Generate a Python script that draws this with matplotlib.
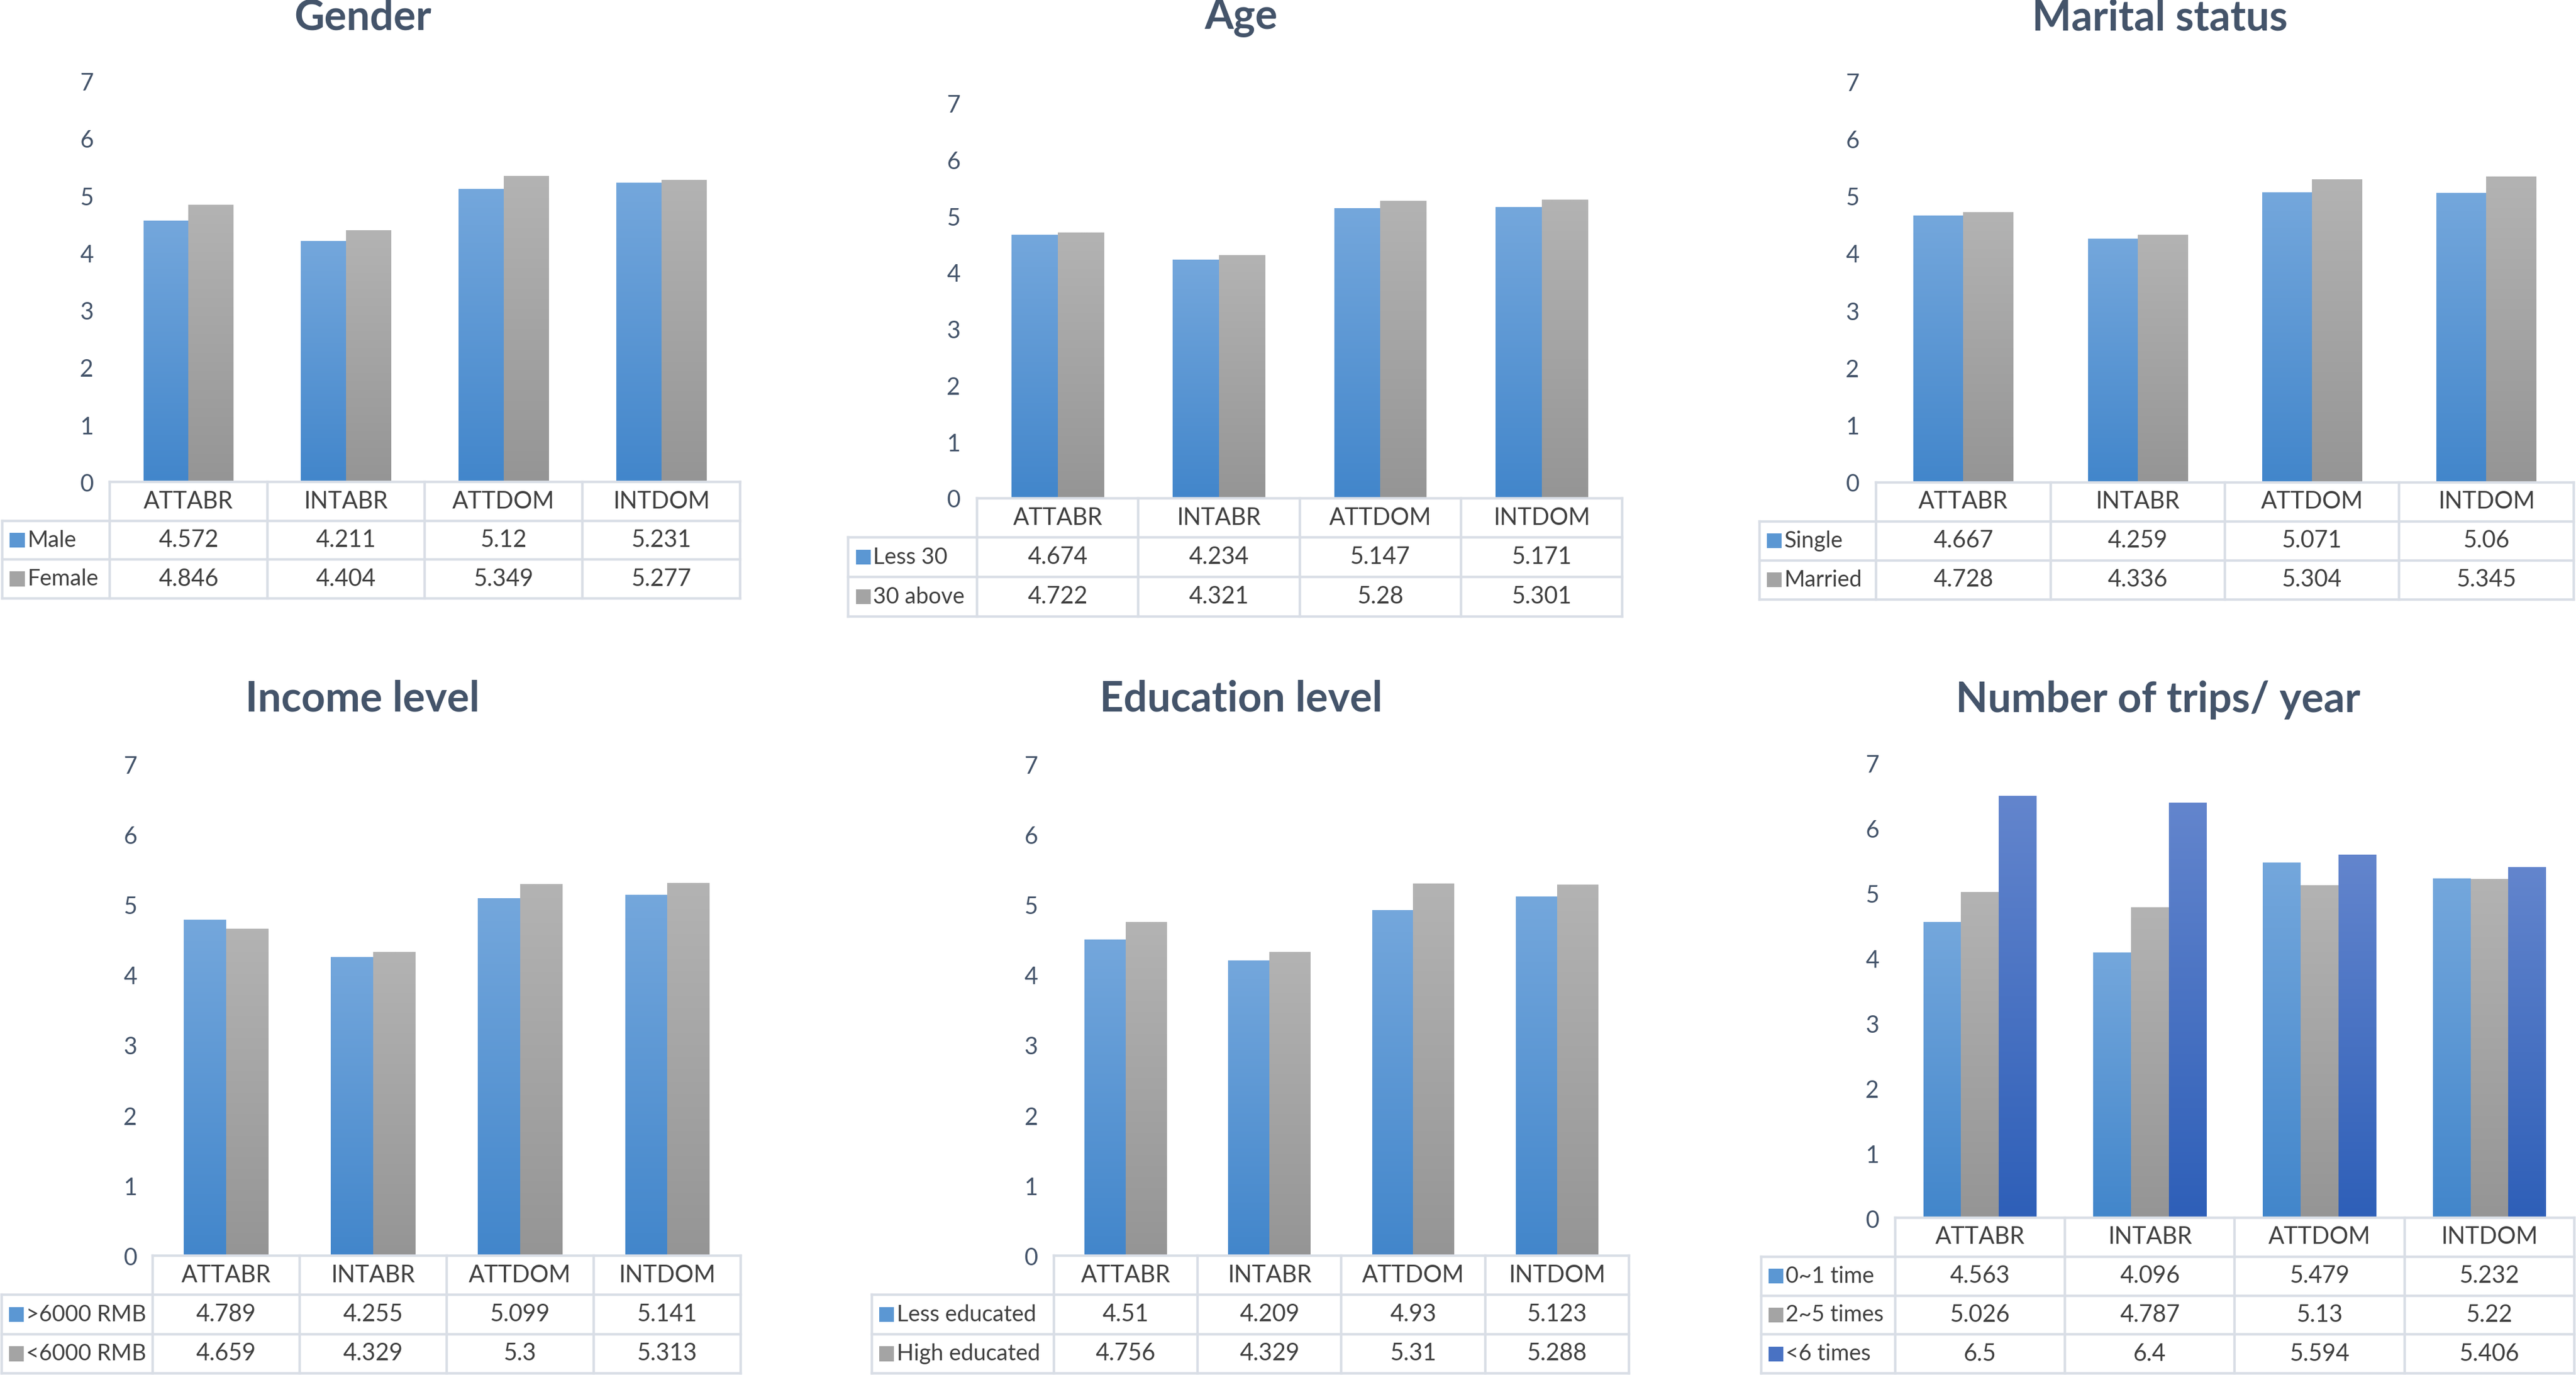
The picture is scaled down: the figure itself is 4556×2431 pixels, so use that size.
import numpy as np
import matplotlib
matplotlib.use("Agg")
import matplotlib.pyplot as plt
from matplotlib.colors import to_rgb
from matplotlib.patches import Rectangle

plt.rcParams['font.family'] = ['Lato', 'DejaVu Sans']

# ---- data ----
categories = ["ATTABR", "INTABR", "ATTDOM", "INTDOM"]

gender_labels = ["Male", "Female"]
gender_male = [4.572, 4.211, 5.12, 5.231]
gender_female = [4.846, 4.404, 5.349, 5.277]

age_labels = ["Less 30", "30 above"]
age_less30 = [4.674, 4.234, 5.147, 5.171]
age_30above = [4.722, 4.321, 5.28, 5.301]

marital_labels = ["Single", "Married"]
marital_single = [4.667, 4.259, 5.071, 5.06]
marital_married = [4.728, 4.336, 5.304, 5.345]

income_labels = [">6000 RMB", "<6000 RMB"]
income_high = [4.789, 4.255, 5.099, 5.141]
income_low = [4.659, 4.329, 5.3, 5.313]

edu_labels = ["Less educated", "High educated"]
edu_less = [4.51, 4.209, 4.93, 5.123]
edu_high = [4.756, 4.329, 5.31, 5.288]

trips_labels = ["0~1 time", "2~5 times", "<6 times"]
trips_0_1 = [4.563, 4.096, 5.479, 5.232]
trips_2_5 = [5.026, 4.787, 5.13, 5.22]
trips_6 = [6.5, 6.4, 5.594, 5.406]

# value strings as printed in the tables
def fmt(v):
    return ("%.3f" % v).rstrip("0").rstrip(".")

# gradient colours (top, bottom) per series
grad = [("#74A7DC", "#4286CB"), ("#B3B3B3", "#959595"), ("#6385CD", "#2E5FB8")]

TITLE_C = "#44546A"
TICK_C = "#44546A"
TEXT_C = "#404040"
GRID_C = "#D9DEE6"
FS = 30
LFS = 28.5
TFS = 53

W, H = 1568.0, 837.0  # layout reference grid
fig = plt.figure(figsize=(45.56, 24.31), dpi=100)
S = 4556.0 / W  # px per layout unit


def panel(title, labels, series, lab_left, head_left, right, y0, y7,
          row_edges, tick_x, title_x, title_y):
    n = len(series)
    # bar axes
    ax = fig.add_axes([head_left / W, 1 - y0 / H, (right - head_left) / W, (y0 - y7) / H])
    x = np.arange(len(categories)) + 0.5
    w = 1.0 / (n + 1.5)
    for k, vals in enumerate(series):
        offs = (k - (n - 1) / 2.0) * w
        bars = ax.bar(x + offs, vals, w, color="none", edgecolor="none")
        top, bot = to_rgb(grad[k][0]), to_rgb(grad[k][1])
        t = np.linspace(0, 1, 128)[:, None]
        img = (np.array(bot) * (1 - t) + np.array(top) * t)[:, None, :]
        for b in bars:
            ax.imshow(img, extent=(b.get_x(), b.get_x() + b.get_width(), 0, b.get_height()),
                      origin="lower", aspect="auto", interpolation="bilinear", zorder=2)
    ax.set_xlim(0, len(categories))
    ax.set_ylim(0, 7)
    ax.set_yticks(range(0, 8))
    ax.set_xticks([])
    for s in ax.spines.values():
        s.set_visible(False)
    pad = (head_left - tick_x - 4.2) * S * 0.72
    ax.tick_params(axis="y", length=0, pad=pad, labelsize=FS, labelcolor=TICK_C)
    ax.patch.set_alpha(0)

    # title
    fig.text(title_x / W, 1 - title_y / H, title, ha="center", va="center",
             fontsize=TFS, fontweight="bold", color=TITLE_C)

    # table axes
    colw = (right - head_left) / len(categories)
    lw_cols = (head_left - lab_left) / colw
    nrows = len(labels) + 1
    tax = fig.add_axes([lab_left / W, 1 - row_edges[-1] / H,
                        (right - lab_left) / W, (row_edges[-1] - row_edges[0]) / H])
    tax.set_xlim(-lw_cols, len(categories))
    tax.set_ylim(nrows, 0)
    tax.axis("off")
    lkw = dict(color=GRID_C, lw=3.2, clip_on=False, solid_capstyle="projecting")
    tax.plot([0, len(categories)], [0, 0], **lkw)
    for r in range(1, nrows + 1):
        tax.plot([-lw_cols, len(categories)], [r, r], **lkw)
    for c in range(0, len(categories) + 1):
        tax.plot([c, c], [0, nrows], **lkw)
    tax.plot([-lw_cols, -lw_cols], [1, nrows], **lkw)
    for c, name in enumerate(categories):
        tax.text(c + 0.5, 0.5, name, ha="center", va="center", fontsize=FS, color=TEXT_C)
    sq = 9.0 / colw  # marker width in column units
    sqh = 9.0 / ((row_edges[-1] - row_edges[0]) / nrows)
    for r, (lab, vals) in enumerate(zip(labels, series)):
        yc = r + 1.5
        mid = tuple((np.array(to_rgb(grad[r][0])) + np.array(to_rgb(grad[r][1]))) / 2)
        tax.add_patch(Rectangle((-lw_cols + 4.5 / colw, yc - sqh / 2), sq, sqh,
                                facecolor=mid, edgecolor="none", clip_on=False))
        tax.text(-lw_cols + 15.0 / colw, yc, lab, ha="left", va="center",
                 fontsize=LFS, color=TEXT_C)
        for c, v in enumerate(vals):
            tax.text(c + 0.5, yc, fmt(v), ha="center", va="center", fontsize=FS, color=TEXT_C)


panel("Gender", gender_labels, [gender_male, gender_female],
      1.5, 66.7, 450.5, 293.8, 49.8, [293.5, 317.6, 341.0, 364.2], 52.8, 220.7, 10.8)
panel("Age", age_labels, [age_less30, age_30above],
      516.4, 594.7, 987.5, 303.6, 63.3, [303.2, 328.0, 351.4, 375.3], 580.4, 755.5, 10.9)
panel("Marital status", marital_labels, [marital_single, marital_married],
      1071.0, 1142.0, 1566.5, 294.0, 50.0, [293.6, 319.0, 341.8, 364.8], 1127.6, 1314.6, 10.9)
panel("Income level", income_labels, [income_high, income_low],
      1.0, 92.8, 450.8, 764.8, 465.7, [764.4, 789.0, 812.2, 836.0], 79.3, 220.7, 425.5)
panel("Education level", edu_labels, [edu_less, edu_high],
      530.7, 641.4, 991.5, 764.8, 465.7, [764.4, 789.0, 812.2, 836.0], 627.6, 755.4, 425.5)
panel("Number of trips/ year", trips_labels, [trips_0_1, trips_2_5, trips_6],
      1072.0, 1153.5, 1567.0, 742.0, 464.9, [741.3, 765.8, 789.2, 812.3, 836.0], 1139.6, 1313.7, 426.2)

fig.savefig("out.png", dpi=100, facecolor="white")
